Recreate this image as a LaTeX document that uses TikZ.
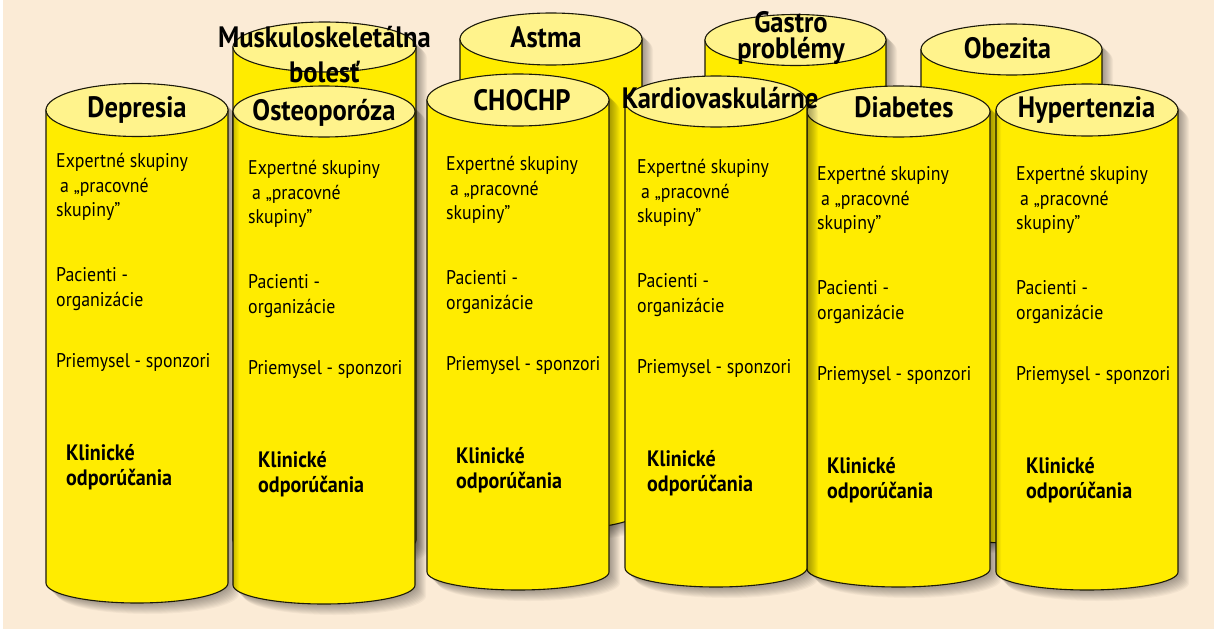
\documentclass[tikz,border=0pt]{standalone}
\usepackage{fontspec}
\setmainfont{PT Sans}[FakeStretch=0.9]

\definecolor{bgcream}{HTML}{FBEBD6}
\definecolor{cylbody}{HTML}{FFEC00}
\definecolor{cyltop}{HTML}{FFF38C}
\definecolor{cylline}{HTML}{1C1A0A}

% cylinder: left x, right x, top y, top radius, bottom y, bottom depth
\newcommand{\drawcyl}[6]{%
  \pgfmathsetmacro\cylcx{(#1+#2)/2}
  \pgfmathsetmacro\cylrx{(#2-#1)/2}
  \foreach \k in {1,...,11}
    \fill[black, opacity=0.035, shift={(\k,\k)}] (#1,#3) arc[start angle=180, end angle=360, x radius=\cylrx, y radius=#4]
      -- (#2,#5) arc[start angle=0, end angle=180, x radius=\cylrx, y radius=#6] -- cycle;
  \filldraw[cylside] (#1,#3) -- (#1,#5) arc[start angle=180, end angle=0, x radius=\cylrx, y radius=#6] -- (#2,#3) -- cycle;
  \filldraw[cylend] (\cylcx,#3) ellipse[x radius=\cylrx, y radius=#4];
}

% the text column of one front cylinder
\newcommand{\cyltext}[3]{%
  \foreach \dy/\txt [count=\i] in {0/Expertné skupiny, 25/\hspace{4pt}a „pracovné, 49/skupiny”,
      114/Pacienti -, 139/organizácie, 200/Priemysel - sponzori}
    \node[bodytext] (#1-\i) at (#2,#3+\dy) {\txt};
  \node[guidetext] (#1-k1) at (#2+10,#3+293) {Klinické};
  \node[guidetext] (#1-k2) at (#2+10,#3+318) {odporúčania};
}

\begin{document}
\begin{tikzpicture}[
    x=1pt, y=-1pt,
    cylside/.style={fill=cylbody, draw=cylline, line width=1.1pt},
    cylend/.style={fill=cyltop, draw=cylline, line width=1.1pt},
    title/.style={anchor=base, inner sep=0pt, font=\bfseries\fontsize{29.5}{34}\selectfont},
    bodytext/.style={anchor=base west, inner sep=0pt, font=\fontsize{19.8}{24}\selectfont},
    guidetext/.style={anchor=base west, inner sep=0pt, font=\bfseries\fontsize{22.3}{26}\selectfont}
]
\useasboundingbox (0,0) rectangle (1214,629);
\fill[white] (0,0) rectangle (1214,629);
\fill[bgcream] (3,0) rectangle (1214,629);

% back row
\drawcyl{233}{416}{47}{25}{540}{20}
\drawcyl{460}{642}{39}{26}{510}{20}
\drawcyl{705}{886}{40}{25.5}{520}{20}
\drawcyl{921}{1102}{49.5}{25.5}{523}{20}

% front row, right to left
\drawcyl{996}{1178}{110}{26}{572}{18}
\drawcyl{807}{990}{111.5}{25.5}{569}{18}
\drawcyl{625}{807}{101.5}{25.5}{568}{19}
\drawcyl{427}{609}{100}{26}{572}{18}
\drawcyl{233}{415}{111.5}{25.5}{585}{19}
\drawcyl{46}{228}{110}{26.5}{583}{20}

% titles
\node[title] (mus1) at (324.5,47) {Muskuloskeletálna};
\node[title] (mus2) at (324.5,82) {bolesť};
\node[title] (astma) at (546,47) {Astma};
\node[title] (gas1) at (791,32) {Gastro};
\node[title] (gas2) at (791,58) {problémy};
\node[title] (obez) at (1007.5,58) {Obezita};
\node[title] (depr) at (137,117) {Depresia};
\node[title] (oste) at (324,120) {Osteoporóza};
\node[title] (chochp) at (522,110) {CHOCHP};
\node[title] (kardio) at (720,108) {Kardiovaskulárne};
\node[title] (diab) at (904,117) {Diabetes};
\node[title] (hyper) at (1086.5,117) {Hypertenzia};

% columns
\cyltext{depr}{56}{167}
\cyltext{oste}{248}{174}
\cyltext{chochp}{446}{170}
\cyltext{kardio}{637}{173.5}
\cyltext{diab}{817}{180}
\cyltext{hyper}{1016}{180}
\end{tikzpicture}
\end{document}
